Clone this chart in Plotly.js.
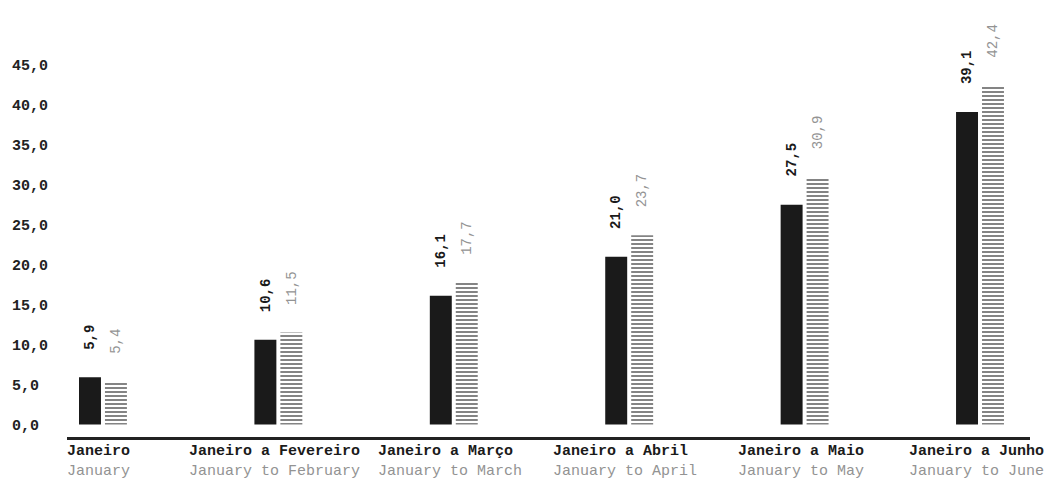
<!DOCTYPE html>
<html>
<head>
<meta charset="utf-8">
<script src="https://cdn.plot.ly/plotly-3.0.1.min.js"></script>
<style>
  html, body { margin: 0; padding: 0; background: #fff; }
  #chart { width: 1048px; height: 480px; }
</style>
</head>
<body>
<div id="chart"></div>
<script>
// Cumulative periods (Portuguese / English)
const periodsPt = ['Janeiro', 'Janeiro a Fevereiro', 'Janeiro a Março', 'Janeiro a Abril', 'Janeiro a Maio', 'Janeiro a Junho'];
const periodsEn = ['January', 'January to February', 'January to March', 'January to April', 'January to May', 'January to June'];

// Two series: solid bars and hatched bars
const seriesSolid = [5.9, 10.6, 16.1, 21.0, 27.5, 39.1];
const seriesHatched = [5.4, 11.5, 17.7, 23.7, 30.9, 42.4];

// Value axis ticks
const yTicks = [0, 5, 10, 15, 20, 25, 30, 35, 40, 45];

const FONT = '"Courier New", "Liberation Mono", "DejaVu Sans Mono", monospace';
const DARK = '#1a1a1a';
const GREY = '#939393';

const fmt = v => v.toFixed(1).replace('.', ',');
const pad4 = s => s.length < 4 ? s + '\u00a0'.repeat(4 - s.length) : s;

const idx = periodsPt.map((_, i) => i);

const traces = [
  {
    type: 'bar',
    x: idx,
    y: seriesSolid,
    marker: { color: DARK, line: { width: 0 } },
    hoverinfo: 'skip'
  },
  {
    type: 'bar',
    x: idx,
    y: seriesHatched,
    marker: {
      color: '#ffffff',
      line: { width: 0 },
      pattern: { shape: '-', size: 4, solidity: 0.26, fgcolor: '#111', bgcolor: '#ffffff', fillmode: 'replace' }
    },
    hoverinfo: 'skip'
  }
];

const annotations = [];
// Rotated value labels above each bar
idx.forEach(i => {
  annotations.push({
    x: i, y: seriesSolid[i], xref: 'x', yref: 'y',
    text: '<b>' + fmt(seriesSolid[i]) + '</b>',
    textangle: -90, showarrow: false,
    xanchor: 'center', yanchor: 'bottom',
    xshift: -13, yshift: 26,
    font: { family: FONT, size: 14, color: DARK }
  });
  annotations.push({
    x: i, y: seriesHatched[i], xref: 'x', yref: 'y',
    text: fmt(seriesHatched[i]),
    textangle: -90, showarrow: false,
    xanchor: 'center', yanchor: 'bottom',
    xshift: 13, yshift: 26,
    font: { family: FONT, size: 14, color: GREY }
  });
  // Two-line category label under the axis
  annotations.push({
    x: i, y: 0, xref: 'x', yref: 'paper',
    text: '<b>' + periodsPt[i] + '</b><br><span style="color:' + GREY + '">' + periodsEn[i] + '</span>',
    showarrow: false, align: 'left',
    xanchor: 'center', yanchor: 'top', xshift: -4, yshift: -4,
    font: { family: FONT, size: 15, color: DARK }
  });
});

const layout = {
  width: 1048,
  height: 480,
  margin: { l: 67, r: 18, t: 10, b: 43 },
  paper_bgcolor: '#ffffff',
  plot_bgcolor: '#ffffff',
  showlegend: false,
  barmode: 'group',
  bargap: 0.704,
  bargroupgap: 0.154,
  font: { family: FONT, color: DARK },
  xaxis: {
    range: [-0.205, 5.285],
    showticklabels: false,
    ticks: '',
    showgrid: false,
    zeroline: false,
    showline: true,
    linecolor: '#222',
    linewidth: 3,
    fixedrange: true
  },
  yaxis: {
    range: [-1.565, 51.88],
    tickvals: yTicks,
    ticktext: yTicks.map(v => pad4(fmt(v))),
    tickfont: { family: FONT, size: 15, color: '#222', weight: 'bold' },
    ticks: '',
    ticklabelstandoff: 18,
    showgrid: false,
    zeroline: false,
    showline: false,
    fixedrange: true
  },
  annotations: annotations
};

Plotly.newPlot('chart', traces, layout, { staticPlot: true, displayModeBar: false });
</script>
</body>
</html>
